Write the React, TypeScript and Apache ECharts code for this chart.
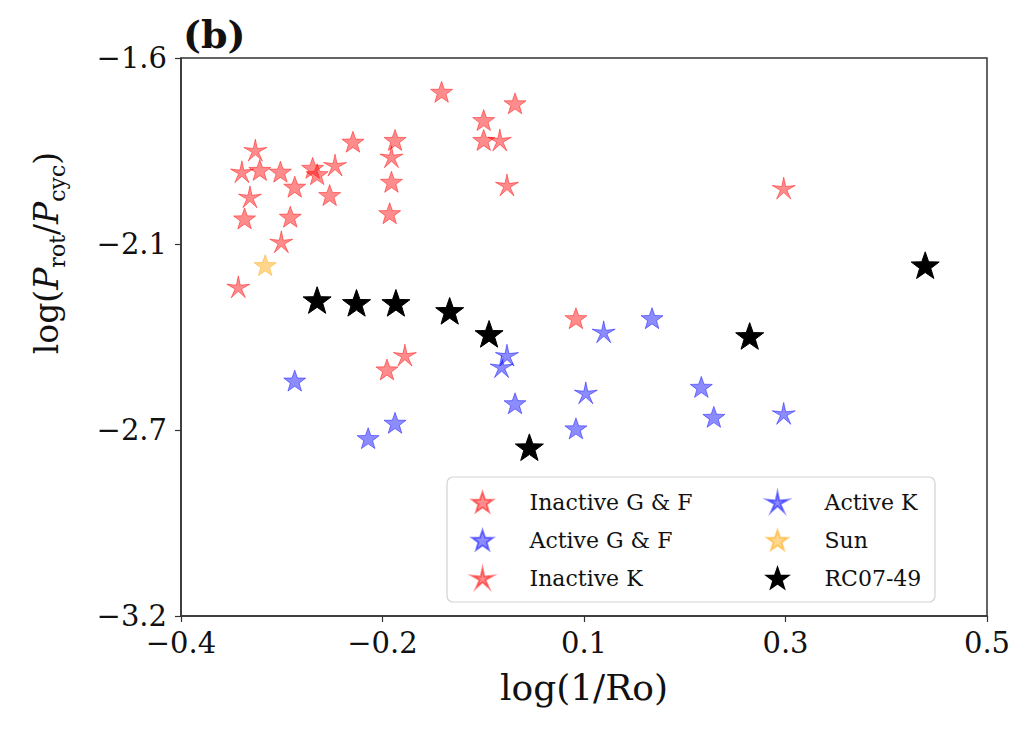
import React, { useEffect, useRef } from "react";
import * as echarts from "echarts";

// ---- data (log(1/Ro), log(Prot/Pcyc)) ----
const inactiveGF: [number, number][] = [
  [-0.312, -1.921], [-0.289, -1.926], [-0.273, -1.969], [-0.253, -1.915],
  [-0.248, -1.933], [-0.208, -1.84], [-0.161, -1.835], [-0.165, -1.955],
  [-0.167, -2.045], [-0.329, -2.06], [-0.278, -2.055], [-0.234, -1.993],
  [-0.109, -1.697], [-0.027, -1.73], [-0.062, -1.778], [-0.062, -1.835],
  [0.041, -2.346], [-0.17, -2.493],
];
const activeGF: [number, number][] = [
  [-0.273, -2.525], [-0.161, -2.646], [-0.191, -2.69], [-0.027, -2.59],
  [0.126, -2.346], [0.181, -2.543], [0.195, -2.629], [0.041, -2.662],
];
const inactiveK: [number, number][] = [
  [-0.317, -1.864], [-0.332, -1.926], [-0.228, -1.907], [-0.165, -1.883],
  [-0.323, -1.998], [-0.288, -2.127], [-0.336, -2.256], [-0.044, -1.835],
  [-0.036, -1.964], [-0.15, -2.452], [0.273, -1.973],
];
const activeK: [number, number][] = [
  [-0.036, -2.452], [-0.042, -2.485], [0.072, -2.385], [0.052, -2.56],
  [0.273, -2.619],
];
const sun: [number, number][] = [[-0.306, -2.194]];
const rc0749: [number, number][] = [
  [-0.248, -2.294], [-0.204, -2.302], [-0.16, -2.302], [-0.1, -2.325],
  [-0.056, -2.391], [-0.011, -2.716], [0.235, -2.397], [0.431, -2.194],
];

const seriesNames = ["Inactive G & F", "Active G & F", "Inactive K", "Active K", "Sun", "RC07-49"];

const xTickValues = [-0.4, -0.175, 0.05, 0.275, 0.5];
const xTickLabels = ["−0.4", "−0.2", "0.1", "0.3", "0.5"];
const yTickValues = [-3.2, -2.6667, -2.1333, -1.6];
const yTickLabels = ["−3.2", "−2.7", "−2.1", "−1.6"];

function starPath(inner: number): string {
  const pts: string[] = [];
  for (let k = 0; k < 10; k++) {
    const r = k % 2 === 0 ? 50 : 50 * inner;
    const a = -Math.PI / 2 + (k * Math.PI) / 5;
    pts.push(`${(50 + r * Math.cos(a)).toFixed(2)} ${(50 + r * Math.sin(a)).toFixed(2)}`);
  }
  return "path://M" + pts.join(" L") + " Z";
}

const FILLED = starPath(0.4);
const THIN = starPath(0.28);

function nearestLabel(v: number, vals: number[], labels: string[]): string {
  let best = 0;
  for (let i = 1; i < vals.length; i++) {
    if (Math.abs(vals[i] - v) < Math.abs(vals[best] - v)) best = i;
  }
  return labels[best];
}

const FONT = "DejaVu Serif";

export default function App() {
  const ref = useRef<HTMLDivElement>(null);
  useEffect(() => {
    if (!ref.current) return;
    const chart = echarts.init(ref.current, undefined, { renderer: "svg" });
    const mk = (
      name: string,
      data: [number, number][],
      symbol: string,
      size: number,
      color: string
    ) => ({
      name,
      type: "scatter",
      data,
      symbol,
      symbolSize: size,
      symbolKeepAspect: true,
      itemStyle: { color, borderColor: color, borderWidth: 1, opacity: 1 },
      emphasis: { disabled: true },
    });
    const legendCommon = {
      orient: "vertical",
      top: 486,
      itemWidth: 84,
      itemHeight: 20,
      itemGap: 16,
      selectedMode: false,
      z: 10,
      textStyle: { fontFamily: FONT, fontSize: 22, color: "#111" },
    };
    const option: any = {
      animation: false,
      backgroundColor: "#ffffff",
      title: {
        text: "(b)",
        left: 178,
        top: 10,
        textStyle: { fontFamily: FONT, fontWeight: "bold", fontSize: 38, color: "#111" },
      },
      grid: {
        left: 181,
        top: 58,
        width: 806,
        height: 558,
        show: true,
        borderColor: "#333",
        borderWidth: 1.5,
        backgroundColor: "transparent",
      },
      xAxis: {
        type: "value",
        min: -0.4,
        max: 0.5,
        name: "log(1/Ro)",
        nameLocation: "middle",
        nameGap: 53,
        nameTextStyle: { fontFamily: FONT, fontSize: 36, color: "#111" },
        axisLine: { show: true, onZero: false, lineStyle: { color: "#333", width: 1.5 } },
        axisTick: { show: true, length: 6, inside: false, customValues: xTickValues, lineStyle: { color: "#333", width: 1.2 } },
        axisLabel: {
          customValues: xTickValues,
          margin: 12,
          fontFamily: FONT,
          fontSize: 29,
          color: "#111",
          formatter: (v: number) => nearestLabel(v, xTickValues, xTickLabels),
        },
        splitLine: { show: false },
      },
      yAxis: {
        type: "value",
        min: -3.2,
        max: -1.6,
        axisLine: { show: true, onZero: false, lineStyle: { color: "#333", width: 1.5 } },
        axisTick: { show: true, length: 6, inside: false, customValues: yTickValues, lineStyle: { color: "#333", width: 1.2 } },
        axisLabel: {
          customValues: yTickValues,
          margin: 14,
          fontFamily: FONT,
          fontSize: 29,
          color: "#111",
          formatter: (v: number) => nearestLabel(v, yTickValues, yTickLabels),
        },
        splitLine: { show: false },
      },
      legend: [
        { ...legendCommon, data: seriesNames.slice(0, 3), left: 466 },
        { ...legendCommon, data: seriesNames.slice(3), left: 761 },
      ],
      graphic: [
        {
          type: "rect",
          z: 5,
          shape: { x: 447, y: 477, width: 488, height: 125, r: 6 },
          style: { fill: "rgba(255,255,255,0.8)", stroke: "#d3d3d3", lineWidth: 1.2 },
        },
        {
          type: "text",
          x: 46,
          y: 253,
          rotation: Math.PI / 2,
          style: {
            text: "{n|log(}{i|P}{s|rot}{n|/}{i|P}{s|cyc}{n|)}",
            align: "center",
            verticalAlign: "middle",
            fill: "#111",
            rich: {
              n: { fontFamily: FONT, fontSize: 33, lineHeight: 44, verticalAlign: "middle", fill: "#111" },
              i: { fontFamily: FONT, fontSize: 33, fontStyle: "italic", lineHeight: 44, verticalAlign: "middle", fill: "#111" },
              s: { fontFamily: FONT, fontSize: 22, lineHeight: 24, verticalAlign: "bottom", fill: "#111" },
            },
          },
        },
      ],
      series: [
        mk(seriesNames[0], inactiveGF, FILLED, 22, "rgba(255,0,0,0.45)"),
        mk(seriesNames[1], activeGF, FILLED, 22, "rgba(0,0,255,0.45)"),
        mk(seriesNames[2], inactiveK, THIN, 23, "rgba(255,0,0,0.45)"),
        mk(seriesNames[3], activeK, THIN, 23, "rgba(0,0,255,0.45)"),
        mk(seriesNames[4], sun, FILLED, 22, "rgba(255,165,0,0.45)"),
        mk(seriesNames[5], rc0749, FILLED, 28, "#000000"),
      ],
    };
    chart.setOption(option);
    return () => chart.dispose();
  }, []);
  return (
    <div
      ref={ref}
      style={{ position: "fixed", left: 0, top: 0, width: 1022, height: 730, background: "#fff" }}
    />
  );
}
